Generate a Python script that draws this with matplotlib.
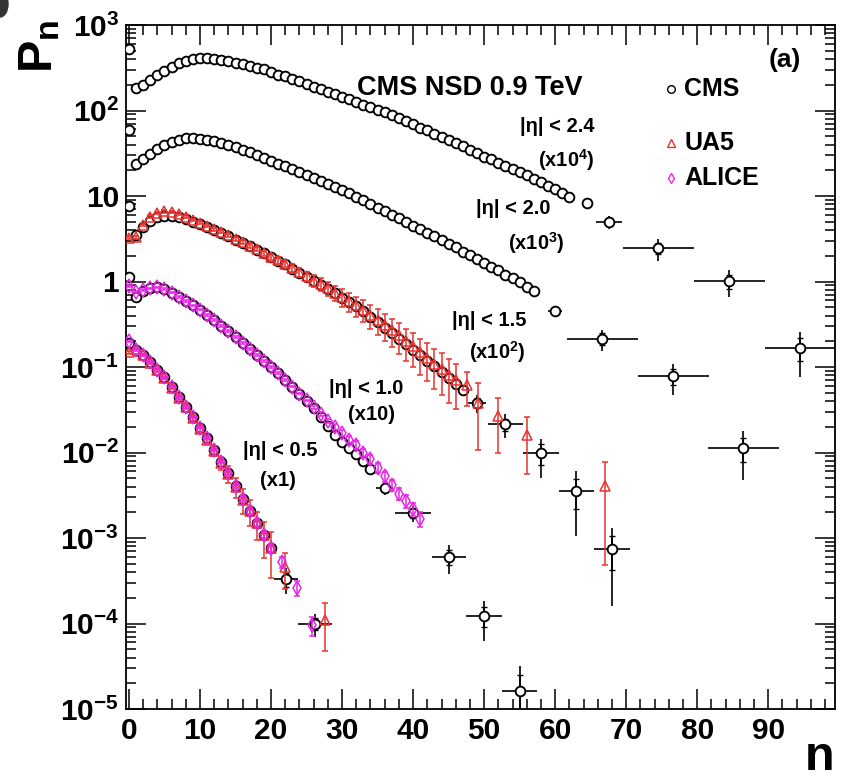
import numpy as np
import matplotlib
matplotlib.use('Agg')
import matplotlib.pyplot as plt
from matplotlib.ticker import MultipleLocator, FixedLocator, NullFormatter, FuncFormatter
from matplotlib.patches import Ellipse

plt.rcParams['font.family'] = ['Liberation Sans', 'DejaVu Sans']
plt.rcParams['font.weight'] = 'bold'
plt.rcParams['mathtext.fontset'] = 'custom'
plt.rcParams['mathtext.rm'] = 'Liberation Sans:bold'
plt.rcParams['mathtext.bf'] = 'Liberation Sans:bold'
plt.rcParams['mathtext.it'] = 'Liberation Sans:bold'
plt.rcParams['mathtext.sf'] = 'Liberation Sans:bold'

# ---------------- data (displayed, already scaled values; stored as log10 P) ----------------
# |eta| < 2.4  (x10^4)  CMS
cms24_n = list(range(0, 63)) + [64.5, 67.6, 74.5, 84.5, 94.5]
cms24_log = [2.72, 2.26, 2.30, 2.36, 2.41, 2.46, 2.51, 2.55, 2.58, 2.60,
             2.61, 2.61, 2.60, 2.59, 2.58, 2.56, 2.54, 2.52, 2.50, 2.48,
             2.45, 2.42, 2.40, 2.37, 2.34, 2.31, 2.28, 2.25, 2.22, 2.19,
             2.16, 2.13, 2.10, 2.07, 2.04, 2.01, 1.98, 1.95, 1.91, 1.88,
             1.84, 1.80, 1.77, 1.73, 1.69, 1.65, 1.62, 1.58, 1.54, 1.50,
             1.46, 1.43, 1.39, 1.35, 1.31, 1.28, 1.24, 1.20, 1.16, 1.12,
             1.08, 1.04, 0.99,
             0.92, 0.70, 0.39, 0.006, -0.78]
cms24_bin_xerr = [0, 1.8, 5, 5, 5]
cms24_bin_yerr = [1.0, 0.9, 0.7, 0.35, 0.09]

# |eta| < 2.0  (x10^3)  CMS
cms20_n = list(range(0, 58)) + [60, 66.6, 76.6, 86.5]
cms20_log = [1.77, 1.37, 1.43, 1.49, 1.55, 1.60, 1.63, 1.66, 1.68, 1.68,
             1.67, 1.66, 1.64, 1.62, 1.60, 1.57, 1.54, 1.51, 1.48, 1.44,
             1.41, 1.38, 1.35, 1.31, 1.28, 1.25, 1.21, 1.18, 1.14, 1.11,
             1.07, 1.03, 0.99, 0.95, 0.91, 0.86, 0.82, 0.78, 0.74, 0.70,
             0.65, 0.61, 0.57, 0.53, 0.48, 0.44, 0.40, 0.35, 0.31, 0.26,
             0.22, 0.17, 0.13, 0.08, 0.04, -0.01, -0.06, -0.11,
             -0.35, -0.67, -1.105, -1.95]
cms20_bin_xerr = [1, 5, 5, 5]
cms20_bin_yerr = [0.05, 0.06, 0.031, 0.0065]

# |eta| < 1.5  (x10^2)  CMS
cms15_n = list(range(0, 48)) + [49, 53, 58, 63, 68]
cms15_log = [0.88, 0.54, 0.64, 0.71, 0.75, 0.77, 0.77, 0.76, 0.73, 0.70,
             0.67, 0.64, 0.60, 0.57, 0.53, 0.49, 0.45, 0.41, 0.37, 0.33,
             0.29, 0.24, 0.20, 0.15, 0.10, 0.05, 0.01, -0.04, -0.09, -0.14,
             -0.19, -0.24, -0.29, -0.35, -0.41, -0.47, -0.54, -0.60, -0.67, -0.73,
             -0.80, -0.86, -0.93, -0.99, -1.06, -1.13, -1.20, -1.27,
             -1.42, -1.67, -2.01, -2.45, -3.13]
cms15_bin_xerr = [1.2, 2.5, 2.5, 2.5, 2.5]
cms15_bin_yerr = [0.009, 0.0065, 0.0048, 0.0025, 0.00058]

# |eta| < 1.5  (x10^2)  UA5
ua15_n = list(range(0, 47)) + [47.6, 49.1, 52, 56, 67]
ua15_log = [0.51, 0.52, 0.66, 0.76, 0.80, 0.82, 0.81, 0.79, 0.76, 0.72,
            0.69, 0.65, 0.61, 0.58, 0.54, 0.50, 0.46, 0.42, 0.38, 0.33,
            0.29, 0.25, 0.21, 0.16, 0.11, 0.06, 0.01, -0.03, -0.08, -0.13,
            -0.18, -0.23, -0.28, -0.33, -0.39, -0.45, -0.51, -0.57, -0.63, -0.70,
            -0.76, -0.83, -0.89, -0.96, -1.02, -1.09, -1.15,
            -1.21, -1.42, -1.57, -1.80, -2.39]
ua15_relerr = [0.04, 0.04, 0.03, 0.03, 0.03, 0.03, 0.03, 0.03, 0.03, 0.03,
               0.03, 0.03, 0.04, 0.04, 0.04, 0.05, 0.05, 0.06, 0.06, 0.07,
               0.08, 0.09, 0.10, 0.11, 0.12, 0.13, 0.15, 0.17, 0.19, 0.21,
               0.23, 0.25, 0.27, 0.29, 0.31, 0.33, 0.35, 0.37, 0.39, 0.41,
               0.43, 0.45, 0.47, 0.49, 0.51, 0.53, 0.55,
               0.43, 0.72, 0.63, 0.65, 0.88]

# |eta| < 1.0  (x10)  CMS
cms10_n = list(range(0, 35)) + [36, 40, 45, 50, 55]
cms10_log = [0.05, -0.18, -0.11, -0.08, -0.07, -0.09, -0.13, -0.18, -0.23, -0.28,
             -0.33, -0.39, -0.45, -0.52, -0.58, -0.65, -0.72, -0.79, -0.86, -0.93,
             -1.00, -1.07, -1.15, -1.23, -1.32, -1.40, -1.48, -1.58, -1.69, -1.79,
             -1.88, -1.95, -2.02, -2.10, -2.19,
             -2.42, -2.71, -3.22, -3.91, -4.79]
cms10_bin_xerr = [1.2, 2.5, 2.4, 2.5, 2.5]
cms10_bin_yerr = [0.0006, 0.0004, 0.00022, 0.00006, 0.000016]

# |eta| < 1.0  (x10)  ALICE
alice10_n = list(range(0, 42))
alice10_log = [-0.05, -0.12, -0.10, -0.08, -0.07, -0.09, -0.13, -0.18, -0.23, -0.28,
               -0.33, -0.39, -0.45, -0.52, -0.58, -0.65, -0.72, -0.79, -0.86, -0.93,
               -1.00, -1.07, -1.15, -1.23, -1.31, -1.39, -1.47, -1.55, -1.63, -1.70,
               -1.77, -1.85, -1.91, -2.00, -2.08, -2.18, -2.28, -2.38, -2.48, -2.57,
               -2.66, -2.78]
alice10_relerr = [0.02] * 26 + [0.04, 0.05, 0.06, 0.07, 0.08, 0.09, 0.10, 0.11,
                                0.12, 0.13, 0.14, 0.15, 0.16, 0.17, 0.18, 0.20]

# |eta| < 0.5  (x1)  CMS
cms05_n = list(range(0, 21)) + [22.1, 26.2]
cms05_log = [-0.715, -0.80, -0.86, -0.94, -1.03, -1.12, -1.23, -1.35, -1.47, -1.59,
             -1.71, -1.83, -1.97, -2.11, -2.24, -2.39, -2.54, -2.68, -2.82, -2.96,
             -3.12, -3.48, -4.0]
cms05_bin_xerr = [1.7, 2.4]
cms05_bin_yerr = [1.1e-4, 3e-5]

# |eta| < 0.5  (x1)  UA5
ua05_n = list(range(0, 21)) + [22, 27.6]
ua05_log = [-0.83, -0.79, -0.86, -0.95, -1.04, -1.13, -1.24, -1.36, -1.47, -1.60,
            -1.72, -1.85, -1.98, -2.12, -2.25, -2.40, -2.55, -2.68, -2.83, -2.97,
            -3.12, -3.34, -3.96]
ua05_relerr = [0.03, 0.03, 0.03, 0.03, 0.03, 0.03, 0.04, 0.05, 0.06, 0.07,
               0.09, 0.11, 0.14, 0.17, 0.22, 0.27, 0.33, 0.33, 0.36, 0.45,
               0.55, 0.45, 0.57]

# |eta| < 0.5  (x1)  ALICE
alice05_n = list(range(0, 21)) + [21.5, 23.6, 25.8]
alice05_log = [-0.70, -0.80, -0.86, -0.94, -1.03, -1.12, -1.23, -1.35, -1.47, -1.59,
               -1.71, -1.83, -1.97, -2.11, -2.24, -2.39, -2.54, -2.68, -2.82, -2.96,
               -3.12, -3.28, -3.58, -4.02]
alice05_relerr = [0.02] * 12 + [0.03, 0.04, 0.05, 0.06, 0.07, 0.08, 0.09, 0.10,
                                0.12, 0.15, 0.20, 0.25]

labels = ["|η| < 2.4", "|η| < 2.0", "|η| < 1.5", "|η| < 1.0", "|η| < 0.5"]
scales = ["(x10$^{4}$)", "(x10$^{3}$)", "(x10$^{2}$)", "(x10)", "(x1)"]
y_decades = [-5, -4, -3, -2, -1, 0, 1, 2, 3]

RED = '#e8322e'
MAG = '#e627e6'

# ---------------- figure ----------------
W, H = 846, 779
fig = plt.figure(figsize=(W / 100, H / 100), dpi=100)
AX_L, AX_R, AX_T, AX_B = 126, 835, 25, 709
ax = fig.add_axes([AX_L / W, (H - AX_B) / H, (AX_R - AX_L) / W, (AX_B - AX_T) / H])
ax.set_yscale('log')
ax.set_xlim(-0.42, 99.4)
ax.set_ylim(1e-5, 1e3)


def fx(px):
    return (px - AX_L) / (AX_R - AX_L)


def fy(py):
    return (AX_B - py) / (AX_B - AX_T)


def draw_cms(n, logv, nbin, xerr, yerr):
    n = np.asarray(n, float)
    P = np.power(10.0, np.asarray(logv))
    k = len(n) - nbin
    nb, Pb = n[k:], P[k:]
    yerr = np.asarray(yerr)
    ax.errorbar(nb, Pb, xerr=xerr, yerr=yerr, fmt='none', ecolor='k',
                elinewidth=1.2, capsize=0, zorder=2)
    ax.errorbar(nb, Pb, yerr=0.55 * yerr, fmt='none', ecolor='k',
                elinewidth=1.2, capsize=2.2, capthick=1.0, zorder=2)
    ax.plot(n, P, 'o', ms=7.0, mfc='white', mec='k', mew=1.35, ls='none', zorder=3)


def draw_other(n, logv, relerr, marker, color, ms, cap, z):
    P = np.power(10.0, np.asarray(logv))
    ax.errorbar(n, P, yerr=P * np.asarray(relerr), fmt=marker, ms=ms, mfc='none',
                mec=color, mew=1.1, ecolor=color, elinewidth=1.1, capsize=cap,
                capthick=1.0, zorder=z)


draw_cms(cms24_n, cms24_log, 5, cms24_bin_xerr, cms24_bin_yerr)
draw_cms(cms20_n, cms20_log, 4, cms20_bin_xerr, cms20_bin_yerr)
draw_cms(cms15_n, cms15_log, 5, cms15_bin_xerr, cms15_bin_yerr)
draw_cms(cms10_n, cms10_log, 5, cms10_bin_xerr, cms10_bin_yerr)
draw_cms(cms05_n, cms05_log, 2, cms05_bin_xerr, cms05_bin_yerr)

draw_other(ua15_n, ua15_log, ua15_relerr, '^', RED, 6.5, 2.5, 4)
draw_other(ua05_n, ua05_log, ua05_relerr, '^', RED, 6.5, 2.5, 4)
draw_other(alice10_n, alice10_log, alice10_relerr, 'd', MAG, 7, 2, 5)
draw_other(alice05_n, alice05_log, alice05_relerr, 'd', MAG, 7, 2, 5)

# ---------------- axes styling ----------------
for s in ax.spines.values():
    s.set_linewidth(1.3)
ax.xaxis.set_major_locator(MultipleLocator(10))
ax.xaxis.set_minor_locator(MultipleLocator(2))
major_y = [10.0 ** e for e in y_decades]
minor_y = [m * 10.0 ** e for e in y_decades[:-1] for m in range(2, 10)]
ax.yaxis.set_major_locator(FixedLocator(major_y))
ax.yaxis.set_minor_locator(FixedLocator(minor_y))
ax.yaxis.set_minor_formatter(NullFormatter())


def yfmt(v, pos):
    e = int(round(np.log10(v)))
    if e == 0:
        return '1'
    if e == 1:
        return '10'
    return '$10^{%d}$' % e


ax.yaxis.set_major_formatter(FuncFormatter(yfmt))
ax.xaxis.set_major_formatter(FuncFormatter(lambda v, p: '%d' % v))
ax.tick_params(which='both', direction='in', top=True, right=True, width=1.1,
               labelsize=21.5)
ax.tick_params(which='major', length=14.5)
ax.tick_params(which='minor', length=7.2)
ax.tick_params(axis='y', pad=5)
ax.tick_params(axis='x', pad=6)
for lab in ax.get_xticklabels() + ax.get_yticklabels():
    lab.set_fontweight('bold')

# ---------------- texts ----------------
ax.text(fx(470), fy(88), 'CMS NSD 0.9 TeV', transform=ax.transAxes, ha='center',
        va='center', fontsize=19.5, fontweight='bold')
ax.text(fx(785), fy(60), '(a)', transform=ax.transAxes, ha='center', va='center',
        fontsize=19, fontweight='bold')

lab_pos = [(557, 127), (513, 209), (489, 320), (366, 388), (280, 451)]
sc_pos = [(566, 160), (536, 243), (497, 352), (371, 415), (278, 481)]
for t, (px, py) in zip(labels, lab_pos):
    ax.text(fx(px), fy(py), t, transform=ax.transAxes, ha='center', va='center',
            fontsize=14.5, fontweight='bold')
for t, (px, py) in zip(scales, sc_pos):
    ax.text(fx(px), fy(py), t, transform=ax.transAxes, ha='center', va='center',
            fontsize=14.5, fontweight='bold')

# legend
leg = [('CMS', 'o', 'k', 89, 5.5), ('UA5', '^', RED, 143, 5.5), ('ALICE', 'd', MAG, 178, 5.5)]
for name, m, c, py, ms in leg:
    ax.plot([fx(671)], [fy(py)], m, ms=ms, mfc='none', mec=c, mew=1.0,
            transform=ax.transAxes, clip_on=False, zorder=6)
    ax.text(fx(684), fy(py), name, transform=ax.transAxes, ha='left', va='center',
            fontsize=18, fontweight='bold')

# axis titles
fig.text(40 / W, 1 - 46 / H, '$P_{n}$', rotation=90, ha='center', va='center',
         fontsize=35)
fig.text(820 / W, 0.012, 'n', ha='center', va='baseline', fontsize=35,
         fontweight='bold')

# small dark mark in the top-left corner
fig.patches.append(Ellipse((0.0, 1 - 4 / H), 16 / W, 26 / H, transform=fig.transFigure,
                           color='#333333', zorder=10))

fig.savefig('out.png', dpi=100)
